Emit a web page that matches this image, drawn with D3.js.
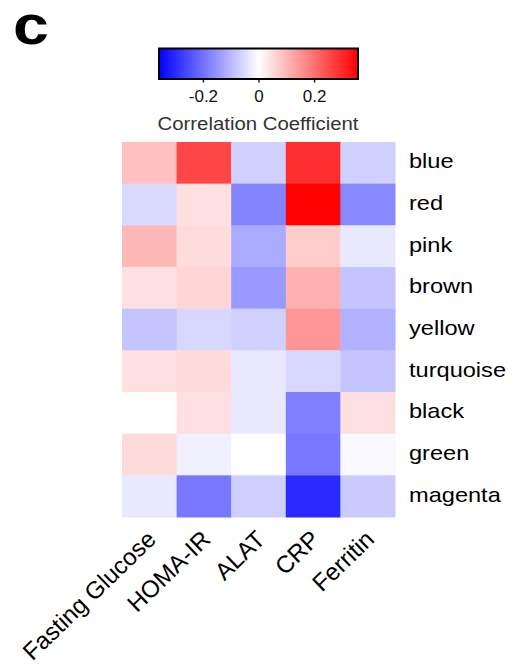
<!DOCTYPE html>
<html lang="en">
<head>
    <meta charset="UTF-8">
    <title>Module trait correlation</title>
    <style type="text/css">
        body {
            margin: 0;
            background: white;
        }
        svg text {
            font-family: "Liberation Sans", Arial, Helvetica, sans-serif;
        }
    </style>
</head>
<script src="https://d3js.org/d3.v7.min.js"></script>
<body>
<svg id="chart"></svg>

<script>
// Data
var modules = ["blue", "red", "pink", "brown", "yellow", "turquoise", "black", "green", "magenta"];
var traits = ["Fasting Glucose", "HOMA-IR", "ALAT", "CRP", "Ferritin"];

// one array per trait, in module order
var fastingGlucose = [0.088, -0.052, 0.099, 0.043, -0.083, 0.043, 0.000, 0.052, -0.032];
var homaIR         = [0.260, 0.043, 0.049, 0.059, -0.055, 0.052, 0.043, -0.021, -0.189];
var alat           = [-0.066, -0.172, -0.119, -0.143, -0.066, -0.032, -0.032, -0.001, -0.069];
var crp            = [0.294, 0.357, 0.071, 0.110, 0.147, -0.055, -0.180, -0.189, -0.298];
var ferritin       = [-0.066, -0.167, -0.032, -0.083, -0.110, -0.083, 0.043, -0.010, -0.074];

var legendTicks = [-0.2, 0, 0.2];
var legendLimit = 0.358;

var columns = [fastingGlucose, homaIR, alat, crp, ferritin];

var svgWidth = 518;
var svgHeight = 668;

var heat = {left: 122, top: 142, width: 273, height: 375};

var svg = d3.select("#chart")
    .attr("width", svgWidth)
    .attr("height", svgHeight);

var xs = d3.scaleBand().domain(traits).range([heat.left, heat.left + heat.width]).padding(0);
var ys = d3.scaleBand().domain(modules).range([heat.top, heat.top + heat.height]).padding(0);
var cs = d3.scaleLinear()
    .domain([-legendLimit, 0, legendLimit])
    .range(["#0000ff", "#ffffff", "#ff0000"])
    .interpolate(d3.interpolateRgb)
    .clamp(true);

var cells = [];
traits.forEach(function(t, j) {
    modules.forEach(function(m, i) {
        cells.push({trait: t, module: m, value: columns[j][i]});
    });
});

// heatmap tiles
svg.append("g")
    .selectAll("rect")
    .data(cells)
    .enter()
    .append("rect")
    .attr("x", function(d) { return xs(d.trait); })
    .attr("y", function(d) { return ys(d.module); })
    .attr("width", xs.bandwidth() + 0.5)
    .attr("height", ys.bandwidth() + 0.5)
    .attr("fill", function(d) { return cs(d.value); });

// row labels (module names)
svg.append("g")
    .selectAll("text")
    .data(modules)
    .enter()
    .append("text")
    .attr("transform", function(d) {
        return "translate(409," + (ys(d) + ys.bandwidth() / 2 + 5.5) + ") scale(1.18,1)";
    })
    .attr("font-size", "20px")
    .attr("fill", "#000")
    .text(function(d) { return d; });

// column labels, rotated
svg.append("g")
    .selectAll("text")
    .data(traits)
    .enter()
    .append("text")
    .attr("transform", function(d) {
        return "translate(" + (xs(d) + xs.bandwidth() / 2 + 8) + ",541) rotate(-44)";
    })
    .attr("text-anchor", "end")
    .attr("font-size", "24px")
    .attr("fill", "#000")
    .text(function(d) { return d; });

// colour bar legend
var lx = d3.scaleLinear().domain([-legendLimit, legendLimit]).range([159, 358]);
var defs = svg.append("defs");
var grad = defs.append("linearGradient")
    .attr("id", "corrGrad")
    .attr("x1", "0%").attr("x2", "100%")
    .attr("y1", "0%").attr("y2", "0%");
d3.range(0, 21).forEach(function(k) {
    var v = -legendLimit + k * (2 * legendLimit / 20);
    grad.append("stop")
        .attr("offset", (k * 5) + "%")
        .attr("stop-color", cs(v));
});

svg.append("rect")
    .attr("x", lx(-legendLimit))
    .attr("y", 48.5)
    .attr("width", lx(legendLimit) - lx(-legendLimit))
    .attr("height", 30.5)
    .attr("fill", "url(#corrGrad)")
    .attr("stroke", "#000")
    .attr("stroke-width", 2);

var legendAxis = svg.append("g")
    .attr("transform", "translate(0,80)")
    .call(d3.axisBottom(lx).tickValues(legendTicks).tickSize(2.5).tickPadding(7)
        .tickFormat(function(d) { return d === 0 ? "0" : d3.format(".1f")(d).replace("\u2212", "-"); }));
legendAxis.select(".domain").remove();
legendAxis.selectAll("line").attr("stroke", "#222").attr("stroke-width", 1.5);
legendAxis.selectAll("text")
    .attr("font-size", "17px")
    .attr("fill", "#111")
    .attr("font-family", "Liberation Sans, Arial, sans-serif");

svg.append("text")
    .attr("transform", "translate(258,129.5) scale(1.1,1)")
    .attr("text-anchor", "middle")
    .attr("font-size", "18.5px")
    .attr("fill", "#333")
    .text("Correlation Coefficient");

// panel letter
svg.append("text")
    .attr("transform", "translate(13,44) scale(1.15,1)")
    .attr("font-size", "56px")
    .attr("font-weight", "bold")
    .attr("fill", "#000")
    .text("c");
</script>

</body>
</html>
